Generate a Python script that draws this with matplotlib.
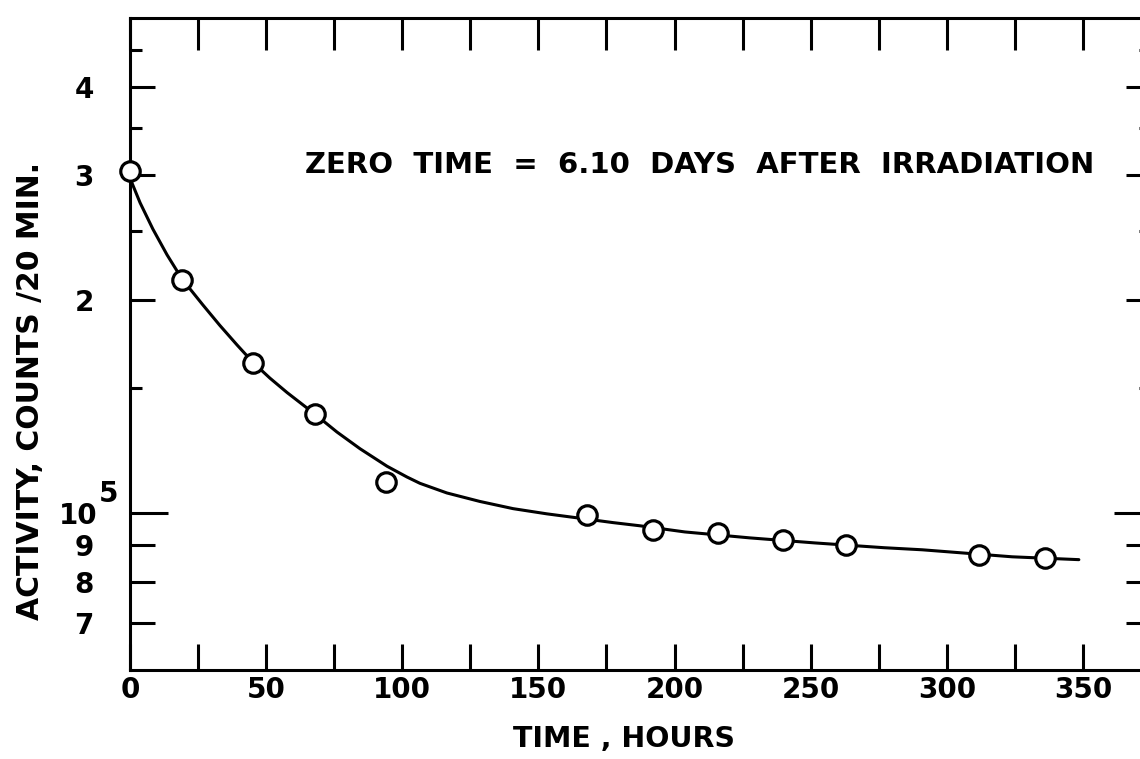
import matplotlib
matplotlib.use('Agg')
import matplotlib.pyplot as plt
from matplotlib.ticker import FixedLocator, NullFormatter, FixedFormatter

# measured points (hours, counts / 20 min)
hours = [0, 19, 45, 68, 94, 168, 192, 216, 240, 263, 312, 336]
counts = [3.04e5, 2.13e5, 1.63e5, 1.38e5, 1.105e5, 0.993e5, 0.946e5, 0.937e5,
          0.916e5, 0.901e5, 0.873e5, 0.864e5]

# hand-drawn curve
curve_hours = [0, 3.7, 8.4, 13.6, 19.1, 26.8, 33, 39.3, 45.2, 51.4, 57.7, 67.9,
               76, 84.5, 94.4, 101.7, 106.5, 116.4, 128.5, 140.7, 153.1, 167.8,
               177.4, 187.3, 203.8, 227.7, 251.6, 277, 291, 324, 348.5]
curve_counts = [2.97e5, 2.742e5, 2.517e5, 2.315e5, 2.14e5, 1.966e5, 1.84e5,
                1.727e5, 1.631e5, 1.55e5, 1.479e5, 1.379e5, 1.301e5, 1.232e5,
                1.164e5, 1.124e5, 1.101e5, 1.067e5, 1.038e5, 1.014e5, 0.997e5,
                0.98e5, 0.969e5, 0.959e5, 0.94e5, 0.922e5, 0.907e5, 0.893e5,
                0.887e5, 0.867e5, 0.859e5]

x_ticks = [25 * i for i in range(16)]
x_tick_labels = ['0', '', '50', '', '100', '', '150', '', '200', '', '250', '',
                 '300', '', '350', '']
y_major = [7e4, 8e4, 9e4, 1e5, 2e5, 3e5, 4e5]
y_major_labels = ['7', '8', '9', '', '2', '3', '4']
y_minor = [1.5e5, 2.5e5, 3.5e5, 4.5e5]

fig = plt.figure(figsize=(11.4, 7.59), dpi=100)
ax = fig.add_axes([130 / 1140, 1 - 670 / 759, 1021 / 1140, 652 / 759])

ax.plot(curve_hours, curve_counts, color='black', lw=2.2, zorder=2,
        solid_joinstyle='round', solid_capstyle='round')
ax.plot(hours, counts, 'o', ms=14, mfc='white', mec='black', mew=2.3, zorder=3,
        clip_on=False)

ax.set_yscale('log')
ax.set_xlim(0, 375)
ax.set_ylim(6e4, 5e5)

for s in ax.spines.values():
    s.set_linewidth(2.2)

ax.xaxis.set_major_locator(FixedLocator(x_ticks))
ax.xaxis.set_major_formatter(FixedFormatter(x_tick_labels))
ax.xaxis.set_minor_locator(FixedLocator([]))
ax.yaxis.set_major_locator(FixedLocator(y_major))
ax.yaxis.set_major_formatter(FixedFormatter(y_major_labels))
ax.yaxis.set_minor_locator(FixedLocator(y_minor))
ax.yaxis.set_minor_formatter(NullFormatter())

ax.tick_params(axis='x', which='major', direction='in', top=True, length=19,
               width=2.2, pad=4, labelsize=20)
ax.tick_params(axis='y', which='major', direction='in', right=True, length=18,
               width=2.2, pad=26, labelsize=20)
ax.tick_params(axis='y', which='minor', direction='in', right=True, length=8.6,
               width=2.2)
for t in ax.get_xticklabels() + ax.get_yticklabels():
    t.set_fontweight('bold')
for t in ax.xaxis.get_major_ticks():
    t.tick2line.set_markersize(23)
t5 = ax.yaxis.get_major_ticks()[3]
t5.tick1line.set_markersize(27)
t5.tick2line.set_markersize(27)

tr = ax.get_yaxis_transform()
ax.text((97 - 130) / 1021, 0.99e5, '10', transform=tr, ha='right', va='center',
        fontsize=20, fontweight='bold')
ax.text((99 - 130) / 1021, 1.065e5, '5', transform=tr, ha='left', va='center',
        fontsize=20, fontweight='bold')

ax.text((305 - 130) / 1021, 1 - (165 - 18) / 652,
        'ZERO  TIME  =  6.10  DAYS  AFTER  IRRADIATION', transform=ax.transAxes,
        ha='left', va='center', fontsize=21, fontweight='bold')

fig.text(624 / 1140, 1 - 739 / 759, 'TIME , HOURS', ha='center', va='center',
         fontsize=20.5, fontweight='bold')
fig.text(31 / 1140, 1 - 391 / 759, 'ACTIVITY, COUNTS /20 MIN.', rotation=90,
         ha='center', va='center', fontsize=21.5, fontweight='bold')

fig.savefig('out.png', dpi=100)
